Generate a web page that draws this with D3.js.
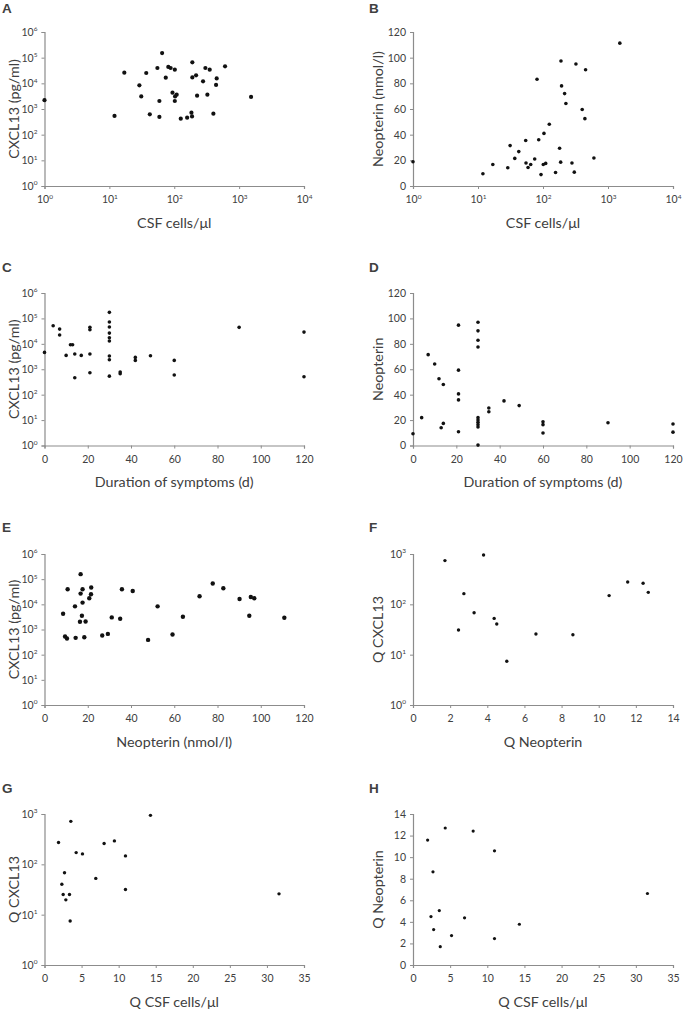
<!DOCTYPE html>
<html><head><meta charset="utf-8">
<script src="https://cdn.jsdelivr.net/npm/d3@7"></script>
<style>
body{margin:0;background:#fff}
svg text{font-family:Lato,'Open Sans',sans-serif;fill:#404040}
</style>
</head><body>
<svg id="chart" width="685" height="1010"></svg>
<script>
// ---- data ----
const aCells=[1,12,17,29,31,37,42,55,59,59,65,74,81,88,94,102,103,109,102,126,158,184,188,190,190,217,225,278,302,324,352,401,441,451,607,1527];
const aCxcl13=[2200,535,26000,8400,3100,25300,620,39600,2050,490,151000,16600,43500,39600,4340,34000,3100,3600,2050,420,460,720,515,66000,17000,20500,3300,12000,39600,3600,34000,660,8700,15600,46000,2950];

const bCells=[1,11.9,16.9,28.7,31.2,36.8,42.4,54.2,54.8,58.9,64.7,74.5,80.9,85.9,93.2,101,103.5,110,125,156,180,187,189,193,215,225,279,303,321,401,452,441,607,1520];
const bNeopterin=[18.9,9.5,16.8,14.2,31.5,21.5,26.8,35.5,17.9,14.4,16.8,21.0,83.2,36.0,8.9,16.8,41.0,17.6,48.1,10.5,29.4,18.6,97.4,78.0,72.0,64.3,17.9,10.8,95.1,59.6,90.6,52.5,21.8,111.3];

const cDuration=[0,4,7,7,10,12,13,14,14,17,21,21,21,21,30,30,30,30,30,30,30,30,30,35,35,42,42,49,60,60,90,120,120];
const cCxcl13=[4600,51700,38000,22200,3500,9200,9200,3960,465,3500,3960,44500,36000,730,173000,72000,46000,26500,17400,12900,3300,2360,535,775,665,2930,2230,3400,2230,590,44500,29000,505];

const dDuration=[0,4,7,10,12,13,14,14,21,21,21,21,21,30,30,30,30,30,30,30,30,30,30,35,35,42,49,60,60,60,90,120,120];
const dNeopterin=[9.2,21.9,71.5,64.1,52.5,14.0,48.0,17.4,94.7,59.3,40.6,35.9,10.8,97.0,90.2,82.8,77.5,21.9,20.0,18.2,16.4,14.5,0.3,29.5,26.6,35.1,31.4,18.7,16.4,9.8,17.9,16.9,10.5];

const eNeopterin=[8.6,9.5,10.4,10.7,14.1,14.4,16.7,16.7,16.4,17.3,17.6,17.6,18.4,19.0,20.7,21.5,21.6,26.7,29.3,31.1,35.0,35.8,40.8,47.9,52.3,59.2,64.0,71.7,77.8,82.7,90.2,94.7,95.4,97.0,110.9];
const eCxcl13=[4240,525,437,39800,8300,465,158000,26700,2030,3540,39800,11700,495,2090,17400,25100,46400,575,670,3020,2680,39800,34000,387,8300,630,3200,20900,67300,43600,16300,3540,19600,17400,2930];

const fQNeopterin=[1.72,3.80,2.74,2.45,3.29,4.37,4.51,5.05,6.62,8.61,10.56,11.56,12.39,12.67];
const fQCxcl13=[740,955,163,31,68,52.6,40.6,7.4,25.8,24.9,149,278,262,173];

const gQCells=[1.89,3.55,2.34,2.70,2.52,2.88,3.37,3.46,4.27,5.12,6.92,8.04,9.43,10.92,10.92,14.29,31.63];
const gQCxcl13=[271,715,40.3,68,25.1,19.7,25.1,7.5,171,161,52.5,259,292,147,31.6,940,25.9];

const hQCells=[1.97,2.69,2.42,2.78,3.54,3.67,4.34,5.19,6.94,8.10,10.97,10.97,14.32,31.56];
const hQNeopterin=[11.58,8.64,4.49,3.28,5.05,1.70,12.70,2.73,4.37,12.42,10.59,2.45,3.78,6.63];

// tick values
const logTicks6=[1,10,100,1000,10000,100000,1000000];
const logTicks4=[1,10,100,1000,10000];
const logTicks3=[1,10,100,1000];
const ticks0to120=[0,20,40,60,80,100,120];
const ticks0to14=[0,2,4,6,8,10,12,14];
const ticks0to35=[0,5,10,15,20,25,30,35];

// ---- layout ----
const svg=d3.select('#chart');
const cols=[{l:44.5,r:304,lab:2,yt:13},{l:413,r:673,lab:369,yt:377}];
const rows=[{t:32,b:186,lab:12.5},{t:293,b:445.5,lab:271.5},{t:554,b:705,lab:532},{t:814,b:965,lab:792.5}];

function supFormat(sel){
  sel.selectAll('.tick text').each(function(d){
    const t=d3.select(this);
    const e=Math.round(Math.log10(d));
    t.text('');
    t.append('tspan').text('10');
    t.append('tspan').attr('font-size','6.5px').attr('dy','-4.5').text(e);
  });
}

function panel(o){
  const c=cols[o.col], r=rows[o.row];
  const g=svg.append('g');
  const x=(o.xLog?d3.scaleLog():d3.scaleLinear()).domain(o.xDom).range([c.l,c.r]);
  const y=(o.yLog?d3.scaleLog():d3.scaleLinear()).domain(o.yDom).range([r.b,r.t]);

  const xa=g.append('g').attr('transform',`translate(0,${r.b})`)
    .call(d3.axisBottom(x).tickValues(o.xTicks).tickSize(3).tickPadding(7).tickFormat(d=>String(d)));
  const ya=g.append('g').attr('transform',`translate(${c.l},0)`)
    .call(d3.axisLeft(y).tickValues(o.yTicks).tickSize(3).tickPadding(4).tickFormat(d=>String(d)));
  [xa,ya].forEach(a=>{
    a.select('.domain').attr('stroke','#8c8c8c').attr('stroke-width',1.2);
    a.selectAll('.tick line').attr('stroke','#8c8c8c');
    a.selectAll('.tick text').attr('font-size','10.5px').attr('fill','#404040');
  });
  if(o.xLog) supFormat(xa);
  if(o.yLog) supFormat(ya);

  g.selectAll('circle').data(o.xs).enter().append('circle')
    .attr('cx',(d,i)=>x(d)).attr('cy',(d,i)=>y(o.ys[i]))
    .attr('r',o.rad).attr('fill','#111');

  g.append('text').attr('x',(c.l+c.r)/2).attr('y',r.b+41.5)
    .attr('text-anchor','middle').attr('font-size','14.3px').text(o.xTitle);
  g.append('text').attr('transform',`translate(${c.yt},${(r.t+r.b)/2}) rotate(-90)`)
    .attr('text-anchor','middle').attr('dominant-baseline','central').attr('font-size','14.3px').text(o.yTitle);
  g.append('text').attr('x',c.lab).attr('y',r.lab).attr('font-size','13.5px')
    .attr('font-weight','bold').style('font-family','"Liberation Sans",Arial,sans-serif').attr('fill','#222').text(o.label);
}

panel({label:'A',col:0,row:0,xLog:true,yLog:true,xDom:[1,1e4],yDom:[1,1e6],xTicks:logTicks4,yTicks:logTicks6,xs:aCells,ys:aCxcl13,rad:2.1,xTitle:'CSF cells/μl',yTitle:'CXCL13 (pg/ml)'});
panel({label:'B',col:1,row:0,xLog:true,yLog:false,xDom:[1,1e4],yDom:[0,120],xTicks:logTicks4,yTicks:ticks0to120,xs:bCells,ys:bNeopterin,rad:1.8,xTitle:'CSF cells/μl',yTitle:'Neopterin (nmol/l)'});
panel({label:'C',col:0,row:1,xLog:false,yLog:true,xDom:[0,120],yDom:[1,1e6],xTicks:ticks0to120,yTicks:logTicks6,xs:cDuration,ys:cCxcl13,rad:1.8,xTitle:'Duration of symptoms (d)',yTitle:'CXCL13 (pg/ml)'});
panel({label:'D',col:1,row:1,xLog:false,yLog:false,xDom:[0,120],yDom:[0,120],xTicks:ticks0to120,yTicks:ticks0to120,xs:dDuration,ys:dNeopterin,rad:1.8,xTitle:'Duration of symptoms (d)',yTitle:'Neopterin'});
panel({label:'E',col:0,row:2,xLog:false,yLog:true,xDom:[0,120],yDom:[1,1e6],xTicks:ticks0to120,yTicks:logTicks6,xs:eNeopterin,ys:eCxcl13,rad:2.2,xTitle:'Neopterin (nmol/l)',yTitle:'CXCL13 (pg/ml)'});
panel({label:'F',col:1,row:2,xLog:false,yLog:true,xDom:[0,14],yDom:[1,1e3],xTicks:ticks0to14,yTicks:logTicks3,xs:fQNeopterin,ys:fQCxcl13,rad:1.7,xTitle:'Q Neopterin',yTitle:'Q CXCL13'});
panel({label:'G',col:0,row:3,xLog:false,yLog:true,xDom:[0,35],yDom:[1,1e3],xTicks:ticks0to35,yTicks:logTicks3,xs:gQCells,ys:gQCxcl13,rad:1.7,xTitle:'Q CSF cells/μl',yTitle:'Q CXCL13'});
panel({label:'H',col:1,row:3,xLog:false,yLog:false,xDom:[0,35],yDom:[0,14],xTicks:ticks0to35,yTicks:ticks0to14,xs:hQCells,ys:hQNeopterin,rad:1.6,xTitle:'Q CSF cells/μl',yTitle:'Q Neopterin'});
</script>
</body></html>
